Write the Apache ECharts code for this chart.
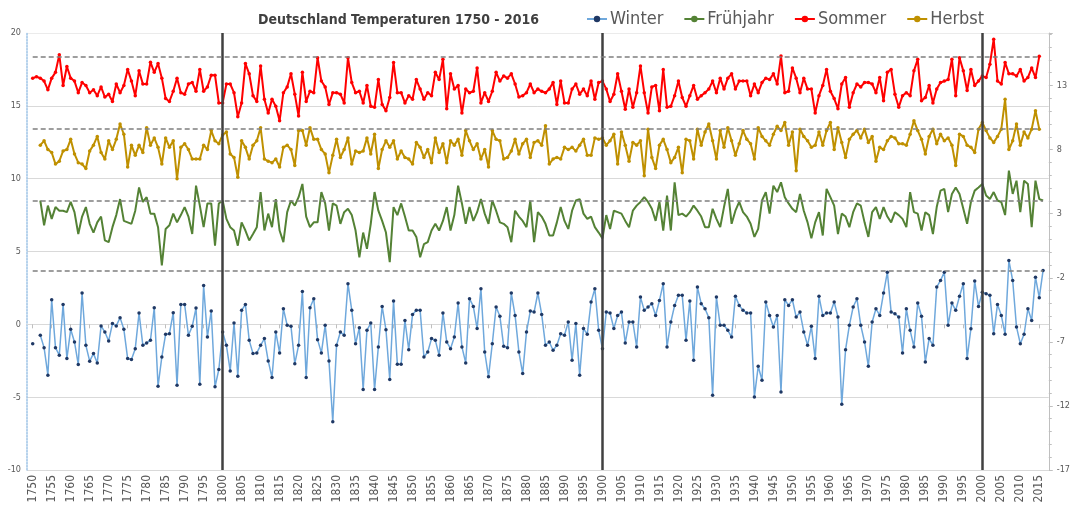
<!DOCTYPE html>
<html>
<head>
<meta charset="utf-8">
<title>Deutschland Temperaturen 1750 - 2016</title>
<script src="https://cdn.jsdelivr.net/npm/echarts@6/dist/echarts.min.js"></script>
<style>
  html, body { margin: 0; padding: 0; background: #fff; }
  #chart { width: 1073px; height: 510px; }
</style>
</head>
<body>
<div id="chart"></div>
<script>
/* Deutschland Temperaturen 1750 - 2016
   Jahreszeiten-Mittel (°C), Werte */

const FIRST_YEAR = 1749, LAST_YEAR = 2017;   // Kategorien (1749 / 2017 bleiben leer)
const MARK_YEARS = ['1800', '1900', '2000'];

// Winter ab 1750 (1751 fehlt)
const WINTER_START = 1750;
const winter = [
  -1.33, null, -0.75, -1.6, -3.49, 1.69, -1.6, -2.12, 1.37, -2.35,
  -0.34, -1.21, -2.76, 2.15, -1.44, -2.53, -2.01, -2.65, -0.11, -0.53,
  -1.14, 0.05, -0.11, 0.46, -0.34, -2.35, -2.42, -1.67, 0.78, -1.44,
  -1.28, -1.1, 1.14, -4.25, -2.24, -0.68, -0.64, 0.8, -4.18, 1.37,
  1.37, -0.75, -0.14, 1.12, -4.11, 2.67, -0.87, 0.91, -4.29, -3.1,
  -0.53, -1.44, -3.2, 0.09, -3.56, 0.96, 1.37, -1.1, -2.01, -1.96,
  -1.44, -0.98, -2.51, -3.65, -0.53, -1.96, 1.07, -0.07, -0.14, -2.7,
  -1.44, 2.26, -3.65, 1.14, 1.76, -1.05, -1.96, -0.07, -2.51, -6.69,
  -1.44, -0.53, -0.75, 2.79, 0.96, -1.33, -0.23, -4.47, -0.41, 0.09,
  -4.47, -1.55, 1.23, -0.37, -3.79, 1.6, -2.74, -2.74, 0.27, -1.74,
  0.68, 0.96, 0.96, -2.24, -1.9, -0.98, -1.1, -2.12, 0.78, -1.21,
  -1.67, -0.87, 1.46, -1.55, -2.65, 1.76, 1.23, -0.29, 2.44, -1.9,
  -3.6, -1.33, 1.19, 0.55, -1.51, -1.6, 2.15, 0.61, -1.9, -3.38,
  -0.52, 0.91, 0.84, 2.15, 0.68, -1.44, -1.21, -1.78, -1.44, -0.64,
  -0.75, 0.16, -2.47, 0.05, -3.49, -0.29, -0.68, 1.53, 2.44, -0.41,
  -1.67, 0.84, 0.78, -0.29, 0.61, 0.84, -1.28, 0.16, 0.16, -1.55,
  1.87, 0.96, 1.19, 1.42, 0.61, 1.64, 2.79, -1.55, 0.16, 1.3,
  1.99, 1.99, -1.1, 1.6, -2.47, 2.56, 1.42, 1.07, 0.46, -4.87,
  1.87, -0.07, -0.07, -0.41, -0.87, 1.92, 1.3, 0.96, 0.78, 0.78,
  -4.98, -2.88, -3.84, 1.53, 0.61, -0.18, 0.61, -4.64, 1.69, 1.3,
  1.69, 0.5, 0.84, -0.52, -1.44, -0.14, -2.35, 1.92, 0.61, 0.78,
  0.78, 1.53, 0.5, -5.48, -1.74, -0.07, 1.19, 1.76, -0.07, -1.21,
  -2.88, 0.16, 1.07, 0.61, 2.15, 3.58, 0.84, 0.73, 0.5, -1.96,
  1.07, -0.41, -1.55, 1.46, 0.55, -2.58, -0.98, -1.44, 2.56, 3.01,
  3.58, -0.07, 1.46, 0.96, 1.92, 2.79, -2.35, -0.3, 2.97, 1.23,
  2.21, 2.1, 1.99, -0.64, 1.37, 0.61, -0.68, 4.38, 3.01, -0.18,
  -1.33, -0.68, 1.07, 0.27, 3.24, 1.83, 3.7
];

// Frühjahr ab 1752
const SPRING_START = 1752;
const spring = [
  8.5, 6.8, 8.15, 7.24, 8.05, 7.8, 7.8, 7.7, 8.4, 7.7,
  6.2, 7.4, 8.05, 6.9, 6.3, 7.0, 7.4, 5.76, 5.64, 6.67,
  7.5, 8.6, 7.1, 7.0, 6.9, 7.8, 9.4, 8.4, 8.73, 7.6,
  7.6, 6.67, 4.04, 6.55, 6.8, 7.6, 7.0, 7.5, 8.05, 7.4,
  6.2, 9.52, 8.15, 6.67, 8.3, 8.3, 5.4, 8.3, 8.5,
  7.24, 6.67, 6.44, 5.4, 7.0, 6.44, 5.76, 6.2, 6.67, 9.08,
  6.44, 7.6, 6.67, 8.6, 6.44, 5.64, 7.7, 8.5, 8.15, 8.73,
  9.64, 7.4, 6.67, 7.0, 7.0, 9.08, 8.3, 6.44, 8.3, 8.15,
  6.9, 7.7, 7.93, 7.5, 6.44, 4.6, 6.3, 5.18, 6.9, 9.08,
  7.8, 7.1, 6.3, 4.27, 8.05, 7.5, 8.3, 7.4, 6.44, 6.44,
  6.0, 4.6, 5.5,
  5.64, 6.44, 6.9, 6.44, 7.1, 8.05, 6.44, 7.5, 9.52, 8.3,
  6.9, 8.05, 7.1, 7.7, 8.6, 7.6, 6.9, 8.5, 7.8, 7.0,
  6.9, 6.67, 5.64, 7.8, 7.4, 7.1, 6.67, 8.5, 5.64, 7.7,
  7.4, 6.9, 6.1, 6.1, 7.0, 8.05, 7.1, 6.55, 7.8, 8.5,
  8.6, 7.6, 7.24, 7.4, 6.67, 6.3, 5.9,
  7.5, 6.55, 7.8,
  7.7, 7.6, 7.1, 6.67, 7.8, 8.15, 8.4, 8.73, 8.4, 7.93,
  7.1, 8.4, 6.44, 8.84, 6.44, 9.75, 7.5, 7.6, 7.4, 7.7,
  8.15, 7.8, 7.4, 6.67, 6.67, 7.93, 7.24, 6.67, 8.05, 9.3,
  6.9, 7.8, 8.4, 7.7, 7.4, 6.9, 6.0, 6.55, 8.5, 9.08,
  7.6, 9.52, 9.08, 9.75, 8.73, 8.3, 7.93, 7.7, 8.95, 7.8,
  7.0, 5.9, 7.0, 7.7, 6.1, 9.3, 8.73,
  8.15, 6.2, 7.6, 7.4, 6.67, 7.7, 8.3, 8.15, 7.0, 6.0,
  7.7, 8.05, 7.24, 8.05, 7.4, 7.0, 7.7, 7.5, 7.24, 6.67,
  9.08, 7.7, 7.6, 6.44, 7.7, 7.5, 6.2, 8.05, 9.18, 9.3,
  7.7, 8.95, 9.4, 8.95, 7.93, 6.9, 8.4, 9.18, 9.4, 9.64,
  8.84, 8.6, 9.08, 8.5, 8.4, 7.5, 10.55, 8.95, 9.86, 7.7,
  9.86, 9.64, 6.67, 9.86, 8.6, 8.5
];

// Sommer ab 1750
const SUMMER_START = 1750;
const summer = [
  16.9, 17.0, 16.9, 16.7, 16.1, 16.9, 17.3, 18.5, 16.4, 17.7,
  16.9, 16.7, 15.9, 16.6, 16.4, 15.9, 16.1, 15.7, 16.3, 15.6,
  15.8, 15.3, 16.5, 15.9, 16.4, 17.5, 16.7, 15.7, 17.4, 16.5,
  16.5, 18.0, 17.3, 17.9, 16.9, 15.5, 15.3, 16.0, 16.9, 15.9,
  15.8, 16.5, 16.6, 16.0, 17.5, 16.0, 16.3, 17.1, 17.1, 15.2,
  15.2,
  16.5, 16.5, 15.9, 14.25, 15.2, 17.9, 17.2, 15.7, 15.3, 17.74,
  15.45, 14.5, 15.45, 14.97, 13.97, 15.9, 16.3, 17.2, 15.8, 14.3,
  17.3, 15.3, 16.0, 15.9, 18.3, 16.7, 16.3, 15.1, 15.9, 15.9,
  15.8, 15.2, 18.3, 16.6, 15.9, 16.0, 15.2, 16.4, 14.97, 14.9,
  16.8, 15.1, 14.66, 15.57, 17.97, 15.9, 15.9, 15.2, 15.7, 15.45,
  16.8, 16.15, 15.45,
  15.9, 15.7, 17.3, 16.8, 18.2, 14.8, 17.2, 16.15, 16.4, 14.5,
  16.15, 15.9, 16.0, 17.6, 15.2, 15.9, 15.3, 16.0, 17.3, 16.7,
  17.05, 16.9, 17.2, 16.5, 15.6, 15.7, 15.9, 16.5, 15.9, 16.15,
  16.0, 15.9, 16.15, 16.6, 15.1, 16.7, 15.2, 15.2, 16.15, 16.5,
  15.8, 16.15, 15.7, 16.7, 15.45, 16.6, 16.7,
  16.15, 15.3, 15.8, 17.2, 16.0, 14.76,
  16.15, 14.9, 15.9, 17.74, 15.9, 14.5, 16.3, 16.4, 14.66, 17.5,
  14.9, 14.97, 15.7, 16.7, 15.57, 14.97, 15.7, 16.4, 15.45, 15.7,
  15.9, 16.15, 16.7, 15.9, 16.9, 16.15, 16.9, 17.2, 16.15, 16.7,
  16.7, 16.7, 15.7, 16.5, 15.9, 16.6, 16.9, 16.8, 17.2, 16.5,
  18.42,
  15.9, 16.0, 17.6, 16.9, 15.9, 16.9, 16.15, 16.15, 14.5, 15.7,
  16.4, 17.5, 16.0, 15.5,
  14.8, 16.5, 16.94, 14.9, 15.9, 16.5, 16.3, 16.6, 16.6, 16.5,
  15.9, 16.94, 15.35, 17.3, 17.5, 15.8, 14.9, 15.7, 15.9, 15.7,
  17.4, 18.2, 15.35, 15.57, 16.4, 15.2, 16.15, 16.6, 16.7, 16.8,
  18.2, 15.7, 18.3, 17.4, 16.05, 17.5, 16.4, 16.7, 17.05, 16.94,
  17.86, 19.57,
  16.7, 16.5, 17.97, 17.2, 17.2, 17.05, 17.5, 16.7, 16.94, 17.6,
  16.94, 18.4
];

// Herbst ab 1752
const AUTUMN_START = 1752;
const autumn = [
  12.3, 12.6, 12.0, 11.8, 11.0, 11.2, 11.9, 12.0, 12.7, 11.7,
  11.1, 11.0, 10.7, 11.9, 12.3, 12.9, 11.8, 11.35, 12.6, 12.0,
  12.7, 13.75, 13.05, 10.8, 12.3, 11.6, 12.3, 11.8, 13.5, 12.3,
  12.8, 12.15, 11.0, 12.8, 12.15, 12.6, 10.0, 12.15, 12.4, 12.0,
  11.35, 11.35, 11.35, 12.3, 12.0, 13.3, 12.6, 12.4,
  13.0,
  13.2, 11.7, 11.46, 10.1, 12.6, 12.15, 11.35, 12.3, 12.6, 13.5,
  11.35, 11.2, 11.1, 11.35, 10.8, 12.15, 12.3, 12.0, 10.9, 13.3,
  13.3, 12.3, 13.5, 12.7, 12.7, 12.0, 11.7, 10.4, 11.6, 12.7,
  11.46, 12.0, 12.8, 11.0, 11.9, 11.8, 11.9, 12.8, 11.7, 13.05,
  10.7, 12.0, 12.6, 12.15, 12.6, 11.35, 11.9, 11.46, 11.35, 11.0,
  12.49, 12.15, 11.46,
  12.0, 11.1, 12.8, 11.8, 12.4, 11.1, 12.6, 12.3, 12.7, 11.6,
  13.3, 12.6, 12.0, 12.4, 11.35, 12.0, 10.8, 13.3, 12.7, 12.6,
  11.35, 11.46, 11.9, 12.7, 11.7, 12.4, 12.7, 11.46, 12.49, 12.6,
  12.3, 13.63, 11.0, 11.35, 11.46, 11.35, 12.15, 12.0, 12.15, 11.9,
  12.3, 12.7, 11.6, 11.6, 12.8, 12.7, 12.8,
  12.3, 12.6, 13.05, 11.0, 13.2,
  12.3, 11.2, 12.49, 12.3, 12.6, 10.2, 13.4, 11.46, 10.7, 12.3,
  12.7, 12.0, 11.1, 11.46, 12.15, 10.4, 12.7, 12.6, 11.35, 13.4,
  12.3, 13.2, 13.75, 12.6, 11.35, 13.3, 12.15, 13.5, 12.6, 11.6,
  12.4, 13.3, 12.7, 12.4, 11.35, 13.5, 12.9, 12.6, 12.3, 13.05,
  13.6, 13.3, 13.86, 12.3, 13.2, 10.55, 13.4, 12.9, 12.6, 12.15,
  12.3, 13.2, 12.3, 13.3, 13.86,
  12.0, 13.5, 12.49, 11.46, 12.7, 13.05, 13.3, 12.8, 13.4, 12.49,
  12.9, 11.2, 12.15, 12.0, 12.6, 12.9, 12.8, 12.4, 12.4, 12.3,
  13.05, 13.97, 13.3, 12.7, 11.7, 12.9, 13.4, 12.4, 13.05, 12.6,
  12.8, 12.3, 10.9, 13.05, 12.9, 12.3, 12.15, 11.8, 13.4, 13.86,
  13.3, 12.8, 12.49, 12.9, 13.4, 15.45, 12.0, 12.6, 13.75, 12.3,
  13.2, 12.8, 13.4, 14.66, 13.4
];

/* ── Aufbau ─────────────────────────────────────────── */
const years = [];
for (let y = FIRST_YEAR; y <= LAST_YEAR; y++) years.push(String(y));

// Reihe an die Kategorien anlegen, außerhalb: null
const align = (start, arr) => years.map((y) => {
  const i = +y - start;
  return i >= 0 && i < arr.length ? arr[i] : null;
});
const lastOf = (arr) => arr[arr.length - 1];
const lastYear = (start, arr) => String(start + arr.length - 1);

const FONT = "'Liberation Sans Narrow', 'DejaVu Sans Condensed', 'Liberation Sans', sans-serif";
const every5 = (i, v) => +v % 5 === 0;

// gestrichelte Linie auf Höhe des letzten Werts
const refLine = (start, arr) => [
  { coord: ['1750', lastOf(arr)], symbol: 'none' },
  { coord: [lastYear(start, arr), lastOf(arr)], symbol: 'none' }
];
const REF_STYLE = { color: '#7f7f7f', width: 1.5, type: [5, 3] };

function lineSeries(name, start, arr, color, opts) {
  return Object.assign({
    name,
    type: 'line',
    data: align(start, arr),
    connectNulls: false,
    showAllSymbol: true,
    symbol: 'circle',
    symbolSize: 3.5,
    lineStyle: { color, width: 2 },
    itemStyle: { color },
    emphasis: { disabled: true },
    markLine: {
      silent: true, symbol: 'none', animation: false,
      label: { show: false },
      lineStyle: REF_STYLE,
      data: [refLine(start, arr)]
    }
  }, opts);
}

const chart = echarts.init(document.getElementById('chart'), null, { renderer: 'canvas' });

const winterSeries = lineSeries('Winter', WINTER_START, winter, '#5b9bd5', {
  lineStyle: { color: '#6fa8dc', width: 1.5 },
  itemStyle: { color: '#1f3864' },
  symbolSize: 3.5
});
// senkrechte Jahrhundertlinien
winterSeries.markLine.data = winterSeries.markLine.data.concat(
  MARK_YEARS.map((y) => ({ xAxis: y, lineStyle: { color: '#404040', width: 2.5, type: 'solid' } }))
);

chart.setOption({
  animation: false,
  backgroundColor: '#fff',
  textStyle: { fontFamily: FONT },
  title: {
    text: 'Deutschland Temperaturen 1750 - 2016',
    left: 253, top: 8,
    textStyle: { fontFamily: FONT, fontSize: 14, fontWeight: 'bold', color: '#404040' }
  },
  legend: {
    left: 581, top: 5,
    itemWidth: 20, itemHeight: 8, itemGap: 20,
    textStyle: { fontFamily: FONT, fontSize: 18, color: '#595959', padding: [0, 0, 0, -2] },
    data: ['Winter', 'Frühjahr', 'Sommer', 'Herbst']
  },
  grid: { left: 27, right: 21, top: 33, bottom: 40, containLabel: false },
  xAxis: {
    type: 'category',
    data: years,
    boundaryGap: true,
    axisLine: { lineStyle: { color: '#d9d9d9' } },
    axisTick: { show: true, interval: every5, alignWithLabel: true, length: 4, lineStyle: { color: '#bfbfbf' } },
    axisLabel: { interval: every5, rotate: 90, fontSize: 12, color: '#595959', margin: 5, fontFamily: FONT },
    splitLine: { show: false }
  },
  yAxis: [{
    type: 'value',
    min: -10, max: 20, interval: 5,
    axisLine: { show: true, lineStyle: { color: '#9dc3e6', type: 'dotted', width: 1.5 } },
    axisTick: { show: false },
    axisLabel: { fontSize: 9, color: '#595959', margin: 6 },
    splitLine: {
      show: true,
      lineStyle: { color: ['#d9d9d9', '#d9d9d9', '#ebebeb', '#d9d9d9', '#d9d9d9', '#d9d9d9', '#ebebeb'], width: 1 }
    }
  }, {
    // rechte Achse: -17 … 13 in 5er-Schritten (intern 0 … 34.1)
    type: 'value',
    position: 'right',
    min: 0, max: 34.1, interval: 5,
    axisLine: { show: true, lineStyle: { color: '#bfbfbf' } },
    axisTick: { show: true, length: 4, lineStyle: { color: '#bfbfbf' } },
    minorTick: { show: true, splitNumber: 5, length: 3, lineStyle: { color: '#bfbfbf' } },
    axisLabel: { fontSize: 9, color: '#595959', margin: 8, showMaxLabel: false, formatter: (v) => String(v - 17) },
    splitLine: { show: false }
  }],
  series: [
    winterSeries,
    lineSeries('Frühjahr', SPRING_START, spring, '#548235', { symbol: 'none', showSymbol: false }),
    lineSeries('Sommer', SUMMER_START, summer, '#ff0000'),
    lineSeries('Herbst', AUTUMN_START, autumn, '#bf9000')
  ]
});
</script>
</body>
</html>
